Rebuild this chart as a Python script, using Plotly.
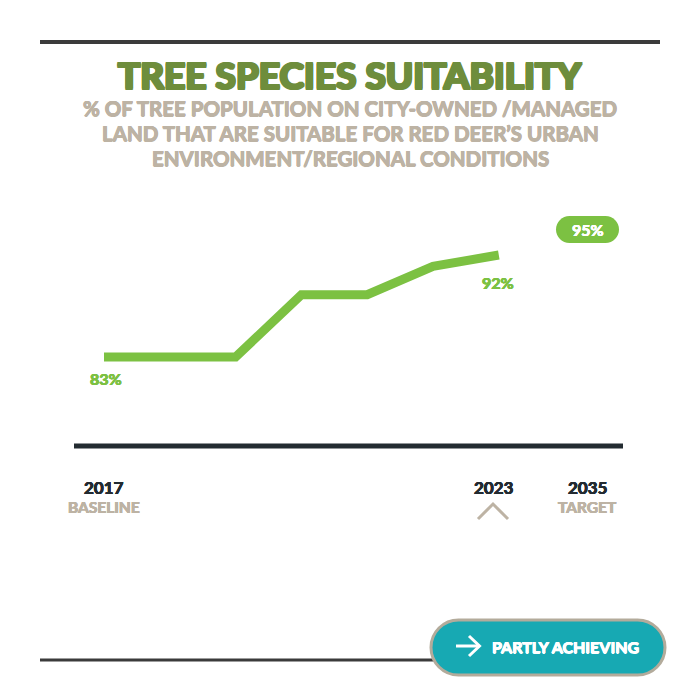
import plotly.graph_objects as go

# ---- data ----
years = [2017, 2018, 2019, 2020, 2021, 2022, 2023]
values = [83, 83, 83, 88.5, 88.5, 91, 92]
target_year = 2035
target_value = 95
tick_years = ["2017", "2023", "2035"]
tick_sublabels = ["BASELINE", "", "TARGET"]
title_text = "TREE SPECIES SUITABILITY"
subtitle_lines = ["% OF TREE POPULATION ON CITY-OWNED /MANAGED",
                  "LAND THAT ARE SUITABLE FOR RED DEER\u2019S URBAN",
                  "ENVIRONMENT/REGIONAL CONDITIONS"]
status_text = "PARTLY ACHIEVING"

# ---- styles ----
W = H = 700
GREEN = "#7cc142"
TITLE_GREEN = "#6e8d3c"
TAN = "#bdb3a4"
DARK = "#232b31"
TEAL = "#17a9b3"
FONT = "Lato"


def heavy(color, d=1.0):
    offs = [(d, 0), (-d, 0), (0, d), (0, -d), (d, d), (-d, -d), (d, -d), (-d, d)]
    return ", ".join(f"{a}px {b}px 0 {color}" for a, b in offs)


def semi(color, d=0.5):
    offs = [(d, 0), (-d, 0), (0, d), (0, -d)]
    return ", ".join(f"{a}px {b}px 0 {color}" for a, b in offs)


# index positions along the x axis (2035 is drawn compressed, as in the original)
xpos = list(range(len(years)))
target_pos = 7.35
px_per_idx = 65.8
x0_px = 104
x_range = [(0 - x0_px) / px_per_idx, (W - x0_px) / px_per_idx]
px_per_val = 11.33
y0_px = 357
y_range = [83 - (H - y0_px) / px_per_val, 83 + y0_px / px_per_val]


def py(p):
    return 1 - p / H


def px(p):
    return p / W


def rounded_rect(x0, y0, x1, y1, r):
    k = 0.5523 * r
    pts = [
        f"M {px(x0 + r)} {py(y0)}",
        f"L {px(x1 - r)} {py(y0)}",
        f"C {px(x1 - r + k)} {py(y0)} {px(x1)} {py(y0 + r - k)} {px(x1)} {py(y0 + r)}",
        f"L {px(x1)} {py(y1 - r)}",
        f"C {px(x1)} {py(y1 - r + k)} {px(x1 - r + k)} {py(y1)} {px(x1 - r)} {py(y1)}",
        f"L {px(x0 + r)} {py(y1)}",
        f"C {px(x0 + r - k)} {py(y1)} {px(x0)} {py(y1 - r + k)} {px(x0)} {py(y1 - r)}",
        f"L {px(x0)} {py(y0 + r)}",
        f"C {px(x0)} {py(y0 + r - k)} {px(x0 + r - k)} {py(y0)} {px(x0 + r)} {py(y0)}",
        "Z",
    ]
    return " ".join(pts)


fig = go.Figure()
fig.add_trace(go.Scatter(
    x=xpos, y=values, mode="lines",
    line=dict(color=GREEN, width=9),
    hoverinfo="skip", showlegend=False,
))

shapes = []
# top and bottom rules
shapes.append(dict(type="line", xref="paper", yref="paper", x0=px(40), x1=px(660),
                   y0=py(42), y1=py(42), line=dict(color="#3b3b3b", width=4)))
shapes.append(dict(type="line", xref="paper", yref="paper", x0=px(40), x1=px(600),
                   y0=py(660), y1=py(660), line=dict(color="#3b3b3b", width=3)))
# baseline axis
shapes.append(dict(type="line", xref="paper", yref="paper", x0=px(74), x1=px(623),
                   y0=py(446), y1=py(446), line=dict(color=DARK, width=5)))
# caret under current year
shapes.append(dict(type="path", xref="paper", yref="paper",
                   path=f"M {px(478)} {py(519)} L {px(493)} {py(504)} L {px(508)} {py(519)}",
                   line=dict(color=TAN, width=3)))
# target pill
shapes.append(dict(type="path", xref="paper", yref="paper",
                   path=rounded_rect(556, 216, 619, 243, 13.5),
                   fillcolor=GREEN, line=dict(width=0)))
# status pill
shapes.append(dict(type="path", xref="paper", yref="paper",
                   path=rounded_rect(431, 620, 665, 675, 27.5),
                   fillcolor=TEAL, line=dict(color="#b3ab9b", width=3)))
# arrow icon in status pill
shapes.append(dict(type="path", xref="paper", yref="paper",
                   path=f"M {px(456)} {py(646)} L {px(479)} {py(646)}",
                   line=dict(color="white", width=3)))
shapes.append(dict(type="path", xref="paper", yref="paper",
                   path=f"M {px(469)} {py(636)} L {px(479.5)} {py(646)} L {px(469)} {py(656)}",
                   line=dict(color="white", width=3)))

annotations = []
annotations.append(dict(text=f"<b>{title_text}</b>", xref="paper", yref="paper",
                        x=0.5, y=py(74), showarrow=False, xanchor="center", yanchor="middle",
                        font=dict(family=FONT, size=37, color=TITLE_GREEN,
                                  shadow=heavy(TITLE_GREEN, 1.2))))
for i, line in enumerate(subtitle_lines):
    annotations.append(dict(text=f"<b>{line}</b>", xref="paper", yref="paper",
                            x=0.5, y=py(108 + 25 * i), showarrow=False,
                            xanchor="center", yanchor="middle",
                            font=dict(family=FONT, size=20.5, color=TAN, shadow=semi(TAN, 0.5))))

# value labels
annotations.append(dict(text=f"<b>{values[0]:.0f}%</b>", x=xpos[0], y=values[0], xref="x", yref="y",
                        showarrow=False, yshift=-21, xshift=2,
                        font=dict(family=FONT, size=16, color=GREEN, shadow=semi(GREEN, 0.4))))
annotations.append(dict(text=f"<b>{values[-1]:.0f}%</b>", x=xpos[-1], y=values[-1], xref="x", yref="y",
                        showarrow=False, yshift=-27, xshift=-1,
                        font=dict(family=FONT, size=16, color=GREEN, shadow=semi(GREEN, 0.4))))
annotations.append(dict(text=f"<b>{target_value}%</b>", x=target_pos, y=target_value, xref="x", yref="y",
                        showarrow=False, yshift=-8,
                        font=dict(family=FONT, size=16, color="white", shadow=semi("white", 0.3))))

# axis tick labels
tick_positions = [xpos[0], xpos[-1], target_pos]
tick_shift = [0, -5, 0]
for pos, yr, sub, sh in zip(tick_positions, tick_years, tick_sublabels, tick_shift):
    annotations.append(dict(text=f"<b>{yr}</b>", x=pos, y=py(487), xref="x", yref="paper",
                            showarrow=False, xshift=sh, yanchor="middle",
                            font=dict(family=FONT, size=17, color=DARK, shadow=semi(DARK, 0.4))))
    if sub:
        annotations.append(dict(text=f"<b>{sub}</b>", x=pos, y=py(507), xref="x", yref="paper",
                                showarrow=False, xshift=sh, yanchor="middle",
                                font=dict(family=FONT, size=15.5, color=TAN, shadow=semi(TAN, 0.4))))

annotations.append(dict(text=f"<b>{status_text}</b>", xref="paper", yref="paper",
                        x=px(565), y=py(646), showarrow=False, xanchor="center", yanchor="middle",
                        font=dict(family=FONT, size=16, color="white", shadow=semi("white", 0.5))))

fig.update_layout(
    width=W, height=H,
    margin=dict(l=0, r=0, t=0, b=0),
    paper_bgcolor="white", plot_bgcolor="white",
    xaxis=dict(range=x_range, visible=False, fixedrange=True),
    yaxis=dict(range=y_range, visible=False, fixedrange=True),
    shapes=shapes, annotations=annotations,
    showlegend=False,
)

fig.write_html("out.html")
